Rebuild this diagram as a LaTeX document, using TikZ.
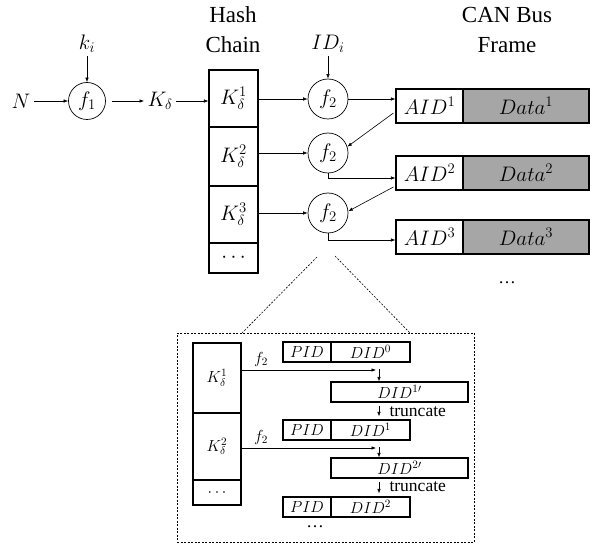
\RequirePackage{fix-cm}
\documentclass[tikz,border=0pt]{standalone}
\usepackage{fontspec}
\setmainfont{Liberation Serif}
\usetikzlibrary{arrows.meta,calc}
\definecolor{datagray}{RGB}{166,166,166}
\begin{document}
\begin{tikzpicture}[x=1pt,y=-1pt,
  big/.style={font=\fontsize{21}{23}\selectfont},
  head/.style={font=\fontsize{23}{30}\selectfont, align=center},
  small/.style={font=\fontsize{16}{18}\selectfont},
  txt/.style={font=\fontsize{17.5}{19}\selectfont},
  circ/.style={draw, circle, line width=0.7pt, inner sep=0pt, minimum size=#1},
  cell/.style={draw, line width=1.1pt, rectangle, inner sep=0pt},
  arr/.style={-{Latex[length=4.5pt,width=3.5pt]}, line width=0.6pt},
  zoomline/.style={dash pattern=on 2pt off 1.5pt, line width=0.6pt}
]
\useasboundingbox (0,0) rectangle (597,548);

% headings
\node[head] (hhash) at (233,30) {Hash\\Chain};
\node[head] (hcan) at (507,30) {CAN Bus\\Frame};

% left part
\node[big] (N) at (21,101) {$N$};
\node[big] (ki) at (87,44) {$k_i$};
\node[circ=37pt, big] (f1) at (87,101) {$f_1$};
\node[big] (Kd) at (160,101) {$K_\delta$};
\draw[arr] (N) -- (f1);
\draw[arr] (ki) -- (f1);
\draw[arr, shorten <=6pt] (f1) -- (Kd);

% hash chain
\node[cell, minimum width=49pt, minimum height=57pt, big] (hc1) at (233.5,98.5) {$K_\delta^1$};
\node[cell, minimum width=49pt, minimum height=59pt, big] (hc2) at (233.5,156.5) {$K_\delta^2$};
\node[cell, minimum width=49pt, minimum height=57pt, big] (hc3) at (233.5,214.5) {$K_\delta^3$};
\node[cell, minimum width=49pt, minimum height=30pt, big] (hc4) at (233.5,258) {$\cdots$};
\draw[arr] (Kd) -- (hc1.west |- Kd);

% f2 circles
\node[big] (IDi) at (328,44) {$ID_i$};
\node[circ=40pt, big] (f2a) at (328,99) {$f_2$};
\node[circ=40pt, big] (f2b) at (328,153) {$f_2$};
\node[circ=40pt, big] (f2c) at (328,213) {$f_2$};
\draw[arr] (IDi) -- (f2a);
\draw[arr] (hc1.east |- f2a.west) -- (f2a.west);
\draw[arr] (hc2.east |- f2b.west) -- (f2b.west);
\draw[arr] (hc3.east |- f2c.west) -- (f2c.west);

% CAN frames
\foreach \i/\y in {1/106,2/173,3/237}{
  \node[cell, minimum width=67pt, minimum height=34pt, big] (aid\i) at (429.5,\y) {$AID^\i$};
  \node[cell, fill=datagray, minimum width=126pt, minimum height=34pt, big] (dat\i) at (526,\y) {$Data^\i$};
}
\node[txt] (cdots) at (507,283) {\dots};

\draw[arr] (f2a.east) -- (aid1.west |- f2a.east);
\draw[arr] ($(aid1.west)+(-2,7)$) -- (f2b.18);
\draw[arr] (f2b.south) |- ($(aid2.west)+(0,5)$);
\draw[arr] ($(aid2.west)+(-2,14)$) -- (f2c.5);
\draw[arr] (f2c.south) |- ($(aid3.west)+(0,3)$);

% zoom box
\node[draw, zoomline, minimum width=297pt, minimum height=209pt, inner sep=0pt] (zbox) at (325.5,437.5) {};
\coordinate (zl) at (317,257);
\coordinate (zr) at (335,256);
\coordinate (bl) at (242,333);
\coordinate (br) at (410,333);
\draw[zoomline] (zl) -- (bl);
\draw[zoomline] (zr) -- (br);

% inner hash chain
\node[cell, minimum width=48pt, minimum height=70pt, small] (ic1) at (217,378) {$K_\delta^1$};
\node[cell, minimum width=48pt, minimum height=67pt, small] (ic2) at (217,446.5) {$K_\delta^2$};
\node[cell, minimum width=48pt, minimum height=25pt, small] (ic3) at (217,492.5) {$\cdots$};

% PID / DID boxes
\foreach \i/\y/\s in {1/352/0,2/430/1,3/507/2}{
  \node[cell, minimum width=48pt, minimum height=20pt, small] (pid\i) at (307,\y) {$PID$};
  \node[cell, minimum width=79pt, minimum height=20pt, small] (did\i) at (370.5,\y) {$DID^\s$};
}
\node[cell, minimum width=137pt, minimum height=20pt, small] (dp1) at (399.5,392) {$DID^{1\prime}$};
\node[cell, minimum width=137pt, minimum height=20pt, small] (dp2) at (399.5,468) {$DID^{2\prime}$};

% f2 arrows in zoom
\coordinate (t1) at (376,370);
\coordinate (t2) at (376,448);
\coordinate (v1) at (379,369);
\coordinate (v2) at (379,447);
\node[small] (f2l1) at (261,359) {$f_2$};
\node[small] (f2l2) at (261,437) {$f_2$};
\draw[arr] (ic1.east |- t1) -- (t1);
\draw[arr] (ic2.east |- t2) -- (t2);
\draw[arr] (v1) -- (dp1.north -| v1);
\draw[arr] (v2) -- (dp2.north -| v2);

% truncate
\draw[arr, shorten <=3pt, shorten >=3pt] (dp1.south -| v1) -- (did2.north -| v1);
\draw[arr, shorten <=3pt, shorten >=3pt] (dp2.south -| v2) -- (did3.north -| v2);
\node[txt, anchor=west] (tr1) at (386,412) {truncate};
\node[txt, anchor=west] (tr2) at (386,487) {truncate};
\node[txt] (zdots) at (315,527) {\dots};
\end{tikzpicture}
\end{document}
